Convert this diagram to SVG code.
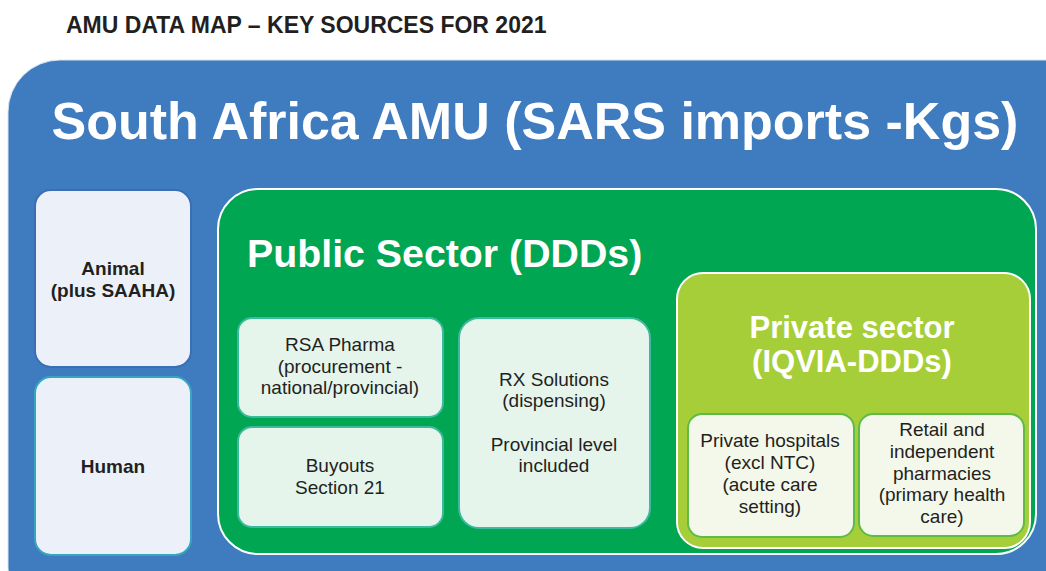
<svg xmlns="http://www.w3.org/2000/svg" width="1046" height="571" viewBox="0 0 1046 571">
<style>
  text { font-family: "Liberation Sans", Arial, sans-serif; fill: #231F20; }
  .hdr { font-size: 23px; font-weight: bold; }
  .big { font-size: 52px; font-weight: bold; fill: #FFFFFF; }
  .pub { font-size: 39.3px; font-weight: bold; fill: #FFFFFF; }
  .priv { font-size: 31px; font-weight: bold; fill: #FFFFFF; text-anchor: middle; }
  .lbl { font-size: 19px; text-anchor: middle; }
  .blbl { font-size: 19px; font-weight: bold; text-anchor: middle; }
  .side { fill: #ECF1F9; stroke-width: 2; }
  .pubbox { fill: #E5F5EC; stroke: #3DBA9E; stroke-width: 2; }
  .privbox { fill: #F4F8EA; stroke: #5DBB46; stroke-width: 2; }
</style>
<rect width="1046" height="571" fill="#FFFFFF"/>
<g id="header">
  <text class="hdr" x="66" y="33">AMU DATA MAP – KEY SOURCES FOR 2021</text>
</g>
<g id="south-africa">
  <rect x="8" y="60" width="1090" height="560" rx="52" fill="#3F7BBF" stroke="#D9E3F0" stroke-width="1"/>
  <text class="big" x="535" y="139" text-anchor="middle">South Africa AMU (SARS imports -Kgs)</text>
</g>
<g id="animal">
  <rect class="side" x="35" y="190" width="156" height="177" rx="16" stroke="#3A6EB5"/>
  <text class="blbl" x="113" y="275">Animal</text>
  <text class="blbl" x="113" y="297">(plus SAAHA)</text>
</g>
<g id="human">
  <rect class="side" x="35" y="377" width="156" height="178" rx="16" stroke="#35A6C2"/>
  <text class="blbl" x="113" y="473">Human</text>
</g>
<g id="public-sector">
  <rect x="218" y="189" width="818" height="365" rx="40" fill="#00A651" stroke="#FFFFFF" stroke-width="2"/>
  <text class="pub" x="247" y="267">Public Sector (DDDs)</text>
</g>
<g id="rsa-pharma">
  <rect class="pubbox" x="238" y="318" width="205" height="99" rx="14"/>
  <text class="lbl" x="340" y="351">RSA Pharma</text>
  <text class="lbl" x="340" y="373">(procurement -</text>
  <text class="lbl" x="340" y="394">national/provincial)</text>
</g>
<g id="buyouts">
  <rect class="pubbox" x="238" y="427" width="205" height="100" rx="14"/>
  <text class="lbl" x="340" y="472">Buyouts</text>
  <text class="lbl" x="340" y="494">Section 21</text>
</g>
<g id="rx-solutions">
  <rect class="pubbox" x="459" y="318" width="191" height="210" rx="20"/>
  <text class="lbl" x="554" y="386">RX Solutions</text>
  <text class="lbl" x="554" y="407">(dispensing)</text>
  <text class="lbl" x="554" y="451">Provincial level</text>
  <text class="lbl" x="554" y="472">included</text>
</g>
<g id="private-sector">
  <rect x="677" y="273" width="353" height="275" rx="26" fill="#A6CE39" stroke="#FFFFFF" stroke-width="2"/>
  <text class="priv" x="852" y="338">Private sector</text>
  <text class="priv" x="852" y="372">(IQVIA-DDDs)</text>
</g>
<g id="private-hospitals">
  <rect class="privbox" x="688" y="414" width="166" height="123" rx="14"/>
  <text class="lbl" x="770" y="447">Private hospitals</text>
  <text class="lbl" x="770" y="469">(excl NTC)</text>
  <text class="lbl" x="770" y="491">(acute care</text>
  <text class="lbl" x="770" y="513">setting)</text>
</g>
<g id="retail-pharmacies">
  <rect class="privbox" x="859" y="414" width="165" height="122" rx="14"/>
  <text class="lbl" x="942" y="436">Retail and</text>
  <text class="lbl" x="942" y="458">independent</text>
  <text class="lbl" x="942" y="480">pharmacies</text>
  <text class="lbl" x="942" y="501">(primary health</text>
  <text class="lbl" x="942" y="523">care)</text>
</g>
<g id="connectors"></g>
</svg>
